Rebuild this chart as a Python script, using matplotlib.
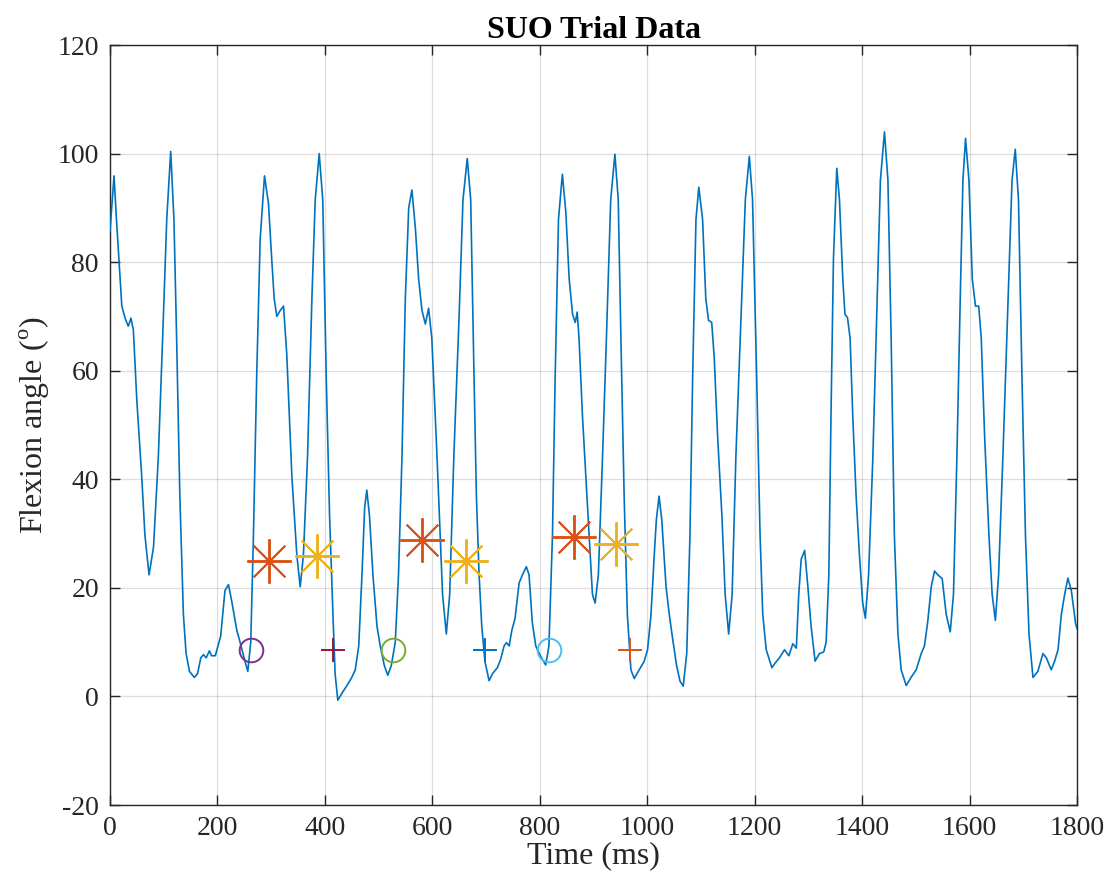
import matplotlib
matplotlib.use('Agg')
import matplotlib.pyplot as plt

# knee flexion trace
tiempo = [0, 7.5, 12, 17, 22, 28, 34, 39, 43.5, 50, 59, 65, 72.7, 81, 90, 99, 105.6, 113, 119, 124,
          130, 136.6, 141.6, 148, 157, 163, 169, 174, 179, 185, 189, 196, 202, 206, 214, 220.5, 227,
          232, 236, 241, 251.5, 256.5, 262, 267, 273, 279.5, 287.6, 295, 301, 305.6, 310.5, 316.8,
          323, 329, 338.5, 347.8, 354, 360, 367.7, 375.8, 382, 389.4, 396, 402.5, 408.7, 415, 419,
          424, 431.7, 441, 450, 456.5, 463, 469, 474, 478, 483, 489.4, 497, 503, 510.6, 517, 523.6,
          531, 537, 543.5, 549.7, 556, 562, 568.3, 574.5, 580.7, 587, 593, 599, 608.7,
          612, 619, 626, 632.3, 640, 649.7, 657, 665, 671.4, 677.6, 682, 687, 692, 698, 705.6, 712,
          721, 727, 733.5, 738, 743, 748, 754, 761.5, 767.7, 775, 780, 786, 792.5, 799, 805, 811,
          817, 823.6, 828.6, 834.8, 842, 848.4, 854.7, 861, 866, 869.6, 873, 879.5, 885.7, 892, 898,
          903, 909, 916.8, 924, 932, 939.8, 946, 951, 957, 963, 969.6, 975.8, 985, 994, 1000.6,
          1007, 1013, 1017, 1022, 1027, 1035, 1041, 1047, 1054.6, 1061, 1067, 1073.5, 1079.5,
          1084.5, 1090.7, 1096, 1103, 1109, 1114, 1120, 1124.7, 1131, 1139, 1145, 1151.6, 1158,
          1165, 1174.5, 1182.6, 1190, 1196, 1203.7, 1210, 1215, 1221.5, 1232, 1240,
          1246, 1255.5, 1263.6, 1271, 1277.5, 1282, 1286.6, 1293, 1299, 1305, 1312.4, 1320.5,
          1328.6, 1333, 1338, 1342, 1346.6, 1352.8, 1357.8, 1364, 1368, 1372.7, 1377.6, 1382.6,
          1388.8, 1395, 1401, 1406, 1412, 1420, 1428, 1434, 1441.6, 1448, 1454, 1460, 1466.6,
          1472.7, 1482, 1491, 1500.6, 1510, 1516, 1522, 1528.6, 1534.8, 1541, 1549, 1556.5, 1564,
          1570, 1576.4, 1582.6, 1587.6, 1592.5, 1598.8, 1605, 1611, 1617, 1621.7, 1628, 1636, 1642,
          1648, 1654, 1662, 1673, 1679, 1685, 1691, 1697.5, 1704, 1710.6, 1718, 1727, 1736.6, 1743,
          1752, 1758, 1764.6, 1770.8, 1777, 1783, 1789.4, 1797.5, 1800]
angulo = [85.7, 95.9, 87.9, 79.9, 71.9, 69.7, 68.2, 69.7, 67.5, 54.4, 40.6, 29.7, 22.4, 27.5, 44.2,
          68.9, 87.9, 100.4, 87.9, 66, 36.9, 15.1, 7.9, 4.6, 3.5, 4.2, 7.1, 7.7, 7.1, 8.4, 7.5, 7.5,
          9.7, 11.1, 19.5, 20.6, 17.3, 14.4, 12.2, 10.4, 6.4, 4.6, 10, 29.7, 58.8, 84.2, 95.9, 90.8,
          80.6, 73.3, 70, 71.1, 71.9, 63.1, 40.6, 26, 20.2, 26, 44.2, 73.3, 91.5, 100, 91.5, 58.8,
          33.3, 15.1, 4.2, -0.7, 0.6, 2, 3.5, 4.9, 9.3, 22.4, 34.8, 38, 33.3, 22.4, 12.9, 9.3, 5.7,
          3.9, 5.7, 10, 22.4, 44.2, 73.3, 90, 93.3, 86.4, 76.9, 71.1, 68.6, 71.5, 66, 44.2,
          36.2, 18.8, 11.5, 18.8, 44.2, 69.7, 91.5, 99.1, 91.5, 58.8, 36.9, 22.4, 12.9, 6.4, 2.9,
          4.2, 5.3, 6.8, 9.3, 9.9, 9.3, 12.2, 14.4, 20.9, 22.4, 23.9, 22.4, 13.7, 9.3, 7.9, 6.8, 5.8,
          9.3, 29.7, 58.8, 87.9, 96.2, 89.3, 76.9, 70.4, 68.9, 70.8, 66, 51.5, 40.6, 29.7, 18.8,
          17.2, 22.4, 44.2, 66, 91.5, 99.9, 91.5, 66, 36.9, 15.1, 4.9, 3.3, 4.9, 6.4, 8.6,
          15.1, 26, 32.6, 36.9, 32.6, 20.2, 15.1, 10.8, 5.7, 2.8, 1.9, 7.9, 29.7,
          58.8, 87.9, 93.8, 87.9, 73.3, 69.3, 68.9, 62.4, 47.9, 33.3, 18.8, 11.5, 18.8,
          44.2, 69.7, 91.5, 99.5, 91.5, 58.8, 29.7, 15.1, 8.6, 5.3, 6.4,
          7.1, 8.6, 7.5, 9.7, 8.9, 18.8, 25.3, 26.9, 20.2, 12.9, 6.5, 7.9,
          8.2, 10, 22.4, 51.5, 80.6, 97.3, 91.5, 76.9, 70.4, 69.8, 66, 51.5,
          36.9, 26, 17.3, 14.4, 22.4, 44.2, 73.3, 95.1, 104, 95.1, 66, 29.7, 11.5,
          4.9, 2, 3.5, 4.9, 7.9, 9.3, 13.7, 20.2, 23.1, 22.4, 21.7, 15.1, 11.9,
          18.8, 44.2, 73.3, 95.1, 102.8, 95.1, 76.9, 71.9, 71.9, 66, 47.9, 29.7, 18.8,
          14, 22.4, 44.2, 76.9, 95.1, 100.8, 91.5, 58.8, 29.7, 11.5, 3.5, 4.6, 7.9, 7.1,
          4.9, 6.4, 8.6, 15.1, 18.8, 21.8, 19.5, 13.3, 12.5]

# event markers
ast1_t = [296, 580, 864]
ast1_v = [25.0, 28.9, 29.4]
ast2_t = [386, 663, 942]
ast2_v = [25.9, 24.9, 28.0]
circ_t = [262.5, 527, 818]
circ_v = [8.5, 8.5, 8.5]
circ_col = ['#7E2F8E', '#77AC30', '#4DBEEE']
plus_t = [416, 698, 968]
plus_v = [8.5, 8.5, 8.5]
plus_col = ['#A2142F', '#0072BD', '#D95319']

plt.rcParams['font.family'] = ['Liberation Serif', 'DejaVu Serif']
plt.rcParams['mathtext.fontset'] = 'custom'
plt.rcParams['mathtext.rm'] = 'Liberation Serif'
plt.rcParams['axes.unicode_minus'] = False

fig = plt.figure(figsize=(11.1, 8.9), dpi=100)
ax = fig.add_axes([0.0991, 0.0955, 0.8712, 0.8539])

ax.plot(tiempo, angulo, color='#0072BD', lw=1.2, zorder=3)
for t, v in zip(ast1_t, ast1_v):
    ax.plot(t, v, marker=(8, 2, 0), ms=32, mew=1.4, color='#D95319', ls='none', zorder=4)
for t, v in zip(ast2_t, ast2_v):
    ax.plot(t, v, marker=(8, 2, 0), ms=32, mew=1.4, color='#EDB120', ls='none', zorder=4)
for t, v, c in zip(circ_t, circ_v, circ_col):
    ax.plot(t, v, marker='o', ms=17, mew=1.4, mfc='none', mec=c, ls='none', zorder=4)
for t, v, c in zip(plus_t, plus_v, plus_col):
    ax.plot(t, v, marker='+', ms=17, mew=1.4, color=c, ls='none', zorder=4)

ax.set_xlim(0, 1800)
ax.set_ylim(-20, 120)
ax.set_xticks(range(0, 1801, 200))
ax.set_yticks(range(-20, 121, 20))
ax.grid(True, color='#262626', alpha=0.15, lw=0.9)
ax.set_axisbelow(True)
ax.tick_params(direction='in', top=True, right=True, length=7, width=1.0,
               labelsize=20, colors='#262626', pad=8)
for s in ax.spines.values():
    s.set_color('#262626')
    s.set_linewidth(1.0)

ax.set_title('SUO Trial Data', fontsize=23, fontweight='bold', pad=5)
ax.set_xlabel('Time (ms)', fontsize=23, labelpad=0, color='#262626')
ax.set_ylabel(r'Flexion angle ($^{\mathrm{o}}$)', fontsize=23, labelpad=4, color='#262626')

fig.savefig('out.png', dpi=100)
